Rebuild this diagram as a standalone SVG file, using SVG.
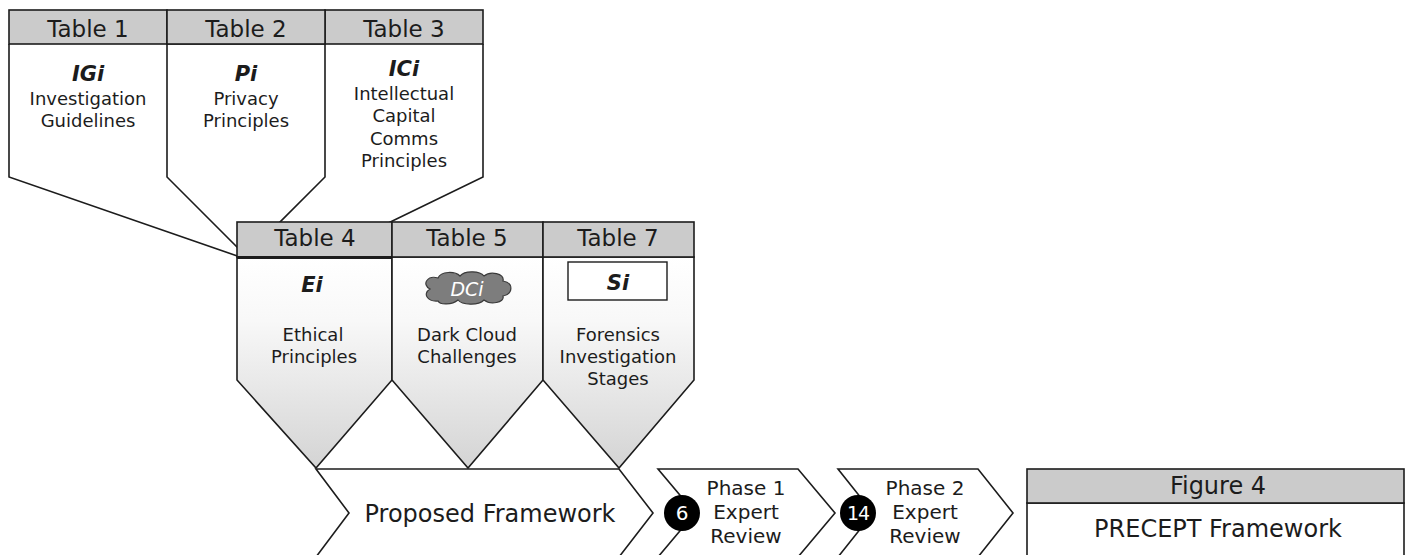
<svg xmlns="http://www.w3.org/2000/svg" width="1407" height="555" viewBox="0 0 1407 555">
<defs>
<linearGradient id="bodyGrad" x1="0" y1="0" x2="0" y2="1">
<stop offset="0" stop-color="#ffffff"/>
<stop offset="0.3" stop-color="#f8f8f8"/>
<stop offset="1" stop-color="#d4d4d4"/>
</linearGradient>
<style>
.ln{stroke:#1c1c1c;stroke-width:1.6;fill:none;stroke-linejoin:miter}
.wh{fill:#ffffff;stroke:#1c1c1c;stroke-width:1.6}
.wf{fill:#ffffff;stroke:none}
.hd{fill:#cbcbcb;stroke:#1c1c1c;stroke-width:1.6}
.gb{fill:url(#bodyGrad);stroke:#1c1c1c;stroke-width:1.6}
text{font-family:"DejaVu Sans",Verdana,sans-serif;fill:#1c1c1c;text-anchor:middle}
.h{font-size:23px}
.b{font-size:18px}
.k{font-size:21px;font-weight:bold;font-style:italic}
.p{font-size:20px}
.big{font-size:24px}
.wt{fill:#ffffff}
</style>
</defs>

<g id="table3">
<path class="wf" d="M325,44 H483 V177 L380,227 L325,177 Z"/>
<path class="ln" d="M483,44 V177 L380,227"/>
<rect class="hd" x="325" y="10" width="158" height="34"/>
<text class="h" x="404" y="37">Table 3</text>
<text class="k" x="404" y="76">ICi</text>
<text class="b" x="404" y="100">Intellectual</text>
<text class="b" x="404" y="122">Capital</text>
<text class="b" x="404" y="145">Comms</text>
<text class="b" x="404" y="167">Principles</text>
</g>

<g id="table1">
<path class="wf" d="M9,44 H167 V177 L246,259 L9,177 Z"/>
<path class="ln" d="M9,44 V177 L246,259"/>
<rect class="hd" x="9" y="10" width="158" height="34"/>
<text class="h" x="88" y="37">Table 1</text>
<text class="k" x="88" y="81">IGi</text>
<text class="b" x="88" y="105">Investigation</text>
<text class="b" x="88" y="127">Guidelines</text>
</g>

<g id="table2">
<path class="wh" d="M167,44 H325 V177 L246,256 L167,177 Z"/>
<rect class="hd" x="167" y="10" width="158" height="34"/>
<text class="h" x="246" y="37">Table 2</text>
<text class="k" x="246" y="81">Pi</text>
<text class="b" x="246" y="105">Privacy</text>
<text class="b" x="246" y="127">Principles</text>
</g>

<g id="table4">
<path class="gb" d="M237,257 H392 V380 L316,468 L237,380 Z"/>
<rect class="hd" x="237" y="222" width="155" height="35"/>
<line x1="237" y1="257.5" x2="392" y2="257.5" stroke="#1c1c1c" stroke-width="3"/>
<text class="h" x="315" y="246">Table 4</text>
<text class="k" x="312" y="292">Ei</text>
<text class="b" x="313" y="341">Ethical</text>
<text class="b" x="314" y="363">Principles</text>
</g>

<g id="table5">
<path class="gb" d="M392,257 H543 V380 L468,468 L392,380 Z"/>
<rect class="hd" x="392" y="222" width="151" height="35"/>
<text class="h" x="467" y="246">Table 5</text>
<path d="M438,301 C428,302 422,294 430,289 C421,284 428,275 438,278 C441,271 455,271 460,276 C465,270 480,271 484,276 C490,271 505,273 503,281 C514,283 513,294 503,296 C505,303 490,305 484,300 C478,306 462,305 458,300 C452,305 440,305 438,301 Z" fill="#7d7d7d" stroke="#3a3a3a" stroke-width="1.2"/>
<text class="wt" x="467" y="296" style="font-size:19px;font-style:italic">DCi</text>
<text class="b" x="467" y="341">Dark Cloud</text>
<text class="b" x="467" y="363">Challenges</text>
</g>

<g id="table7">
<path class="gb" d="M543,257 H694 V380 L619,468 L543,380 Z"/>
<rect class="hd" x="543" y="222" width="151" height="35"/>
<text class="h" x="618" y="246">Table 7</text>
<rect x="568" y="262" width="99" height="38" fill="#ffffff" stroke="#1c1c1c" stroke-width="1.4"/>
<text class="k" x="618" y="290">Si</text>
<text class="b" x="618" y="341">Forensics</text>
<text class="b" x="618" y="363">Investigation</text>
<text class="b" x="618" y="385">Stages</text>
</g>

<g id="proposed">
<path class="wh" d="M316,469 H619 L653,513 L619,557 H316 L349,513 Z"/>
<text class="big" x="490" y="522">Proposed Framework</text>
</g>

<g id="phase1">
<path class="wh" d="M658,469 H798 L835,513 L798,557 H658 L695,513 Z"/>
<circle cx="682" cy="513" r="18" fill="#000000"/>
<text class="p wt" x="682" y="520">6</text>
<text class="p" x="746" y="495">Phase 1</text>
<text class="p" x="746" y="519">Expert</text>
<text class="p" x="746" y="543">Review</text>
</g>

<g id="phase2">
<path class="wh" d="M838,469 H978 L1013,513 L978,557 H838 L873,513 Z"/>
<circle cx="858" cy="513" r="18" fill="#000000"/>
<text class="p wt" x="858" y="520" style="font-size:19px;letter-spacing:-1px">14</text>
<text class="p" x="925" y="495">Phase 2</text>
<text class="p" x="925" y="519">Expert</text>
<text class="p" x="925" y="543">Review</text>
</g>

<g id="figure4">
<rect class="wh" x="1027" y="503" width="377" height="53"/>
<rect class="hd" x="1027" y="469" width="377" height="34"/>
<text class="big" x="1218" y="494">Figure 4</text>
<text class="big" x="1218" y="537">PRECEPT Framework</text>
</g>

<g id="connectors"></g>
</svg>
